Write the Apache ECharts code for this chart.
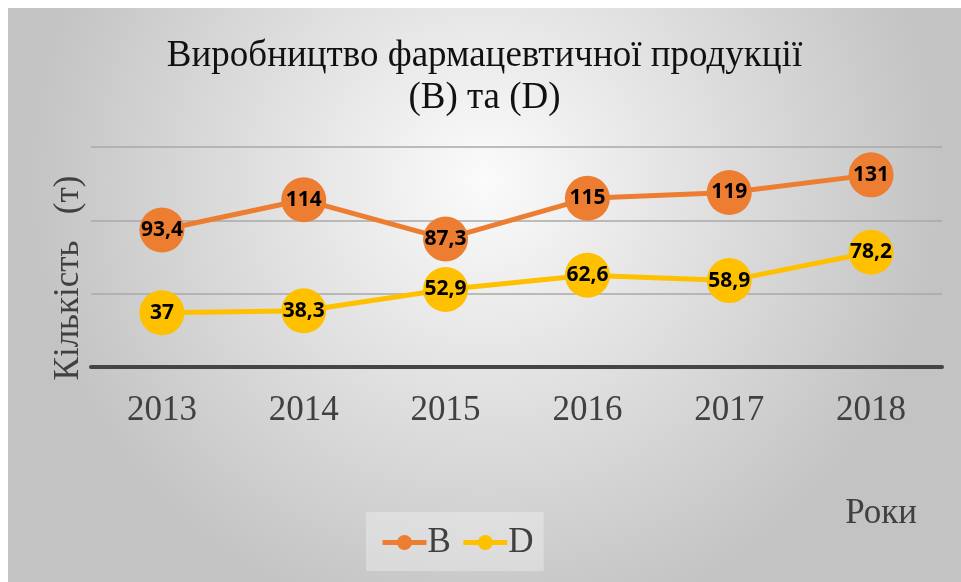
<!DOCTYPE html>
<html>
<head>
<meta charset="utf-8">
<script src="https://cdn.jsdelivr.net/npm/echarts@6/dist/echarts.min.js"></script>
<style>
    html, body { margin: 0; padding: 0; background: #fff; }
    #chart { position: absolute; left: 8px; top: 8px; width: 953px; height: 574px; }
</style>
</head>
<body>
<div id="chart"></div>
<script>
    // роки та значення серій
    var years = ['2013', '2014', '2015', '2016', '2017', '2018'];
    var seriesB = [93.4, 114, 87.3, 115, 119, 131];
    var seriesD = [37, 38.3, 52.9, 62.6, 58.9, 78.2];

    var serif = '"Liberation Serif", "DejaVu Serif", serif';
    var chart = echarts.init(document.getElementById('chart'));

    function fmt(p) {
        return String(p.value).replace('.', ',');
    }

    var labelStyle = {
        show: true, position: 'inside', formatter: fmt,
        fontFamily: '"Open Sans", "Noto Sans", sans-serif', fontWeight: 'bold', fontSize: 21, color: '#000'
    };

    var option = {
        backgroundColor: {
            type: 'radial', x: 0.5, y: 0.3, r: 0.8,
            colorStops: [{offset: 0, color: '#fbfbfb'}, {offset: 1, color: '#c3c3c3'}]
        },
        title: {
            text: 'Виробництво фармацевтичної продукції\n(B) та (D)',
            left: 'center',
            top: 22,
            textStyle: {fontFamily: serif, fontSize: 37, fontWeight: 'normal', color: '#111', lineHeight: 42}
        },
        grid: {left: 83, right: 19, top: 139, bottom: 215},
        legend: {
            bottom: 11,
            left: 358,
            data: ['B', 'D'],
            itemWidth: 44,
            itemHeight: 19,
            itemGap: 10,
            padding: [13, 10, 11, 14],
            backgroundColor: 'rgba(255,255,255,0.3)',
            lineStyle: {width: 5},
            textStyle: {fontFamily: serif, fontSize: 35, color: '#404040', padding: [4, 0, 0, -4]}
        },
        xAxis: {
            type: 'category',
            data: years,
            axisLine: {lineStyle: {color: '#444', width: 4}},
            axisTick: {show: false},
            axisLabel: {fontFamily: serif, fontSize: 35, color: '#404040', margin: 26}
        },
        yAxis: {
            type: 'value',
            min: 0,
            max: 150,
            interval: 50,
            axisLine: {show: false},
            axisTick: {show: false},
            axisLabel: {show: false},
            splitLine: {lineStyle: {color: '#a8a8a8', width: 1.5}}
        },
        graphic: [{
            type: 'text',
            x: 61,
            y: 270,
            rotation: Math.PI / 2,
            style: {
                text: 'Кількість   (т)', font: '35px ' + serif, fill: '#404040',
                align: 'center', verticalAlign: 'middle'
            }
        }, {
            type: 'text',
            right: 44,
            top: 488,
            style: {text: 'Роки', font: '35px ' + serif, fill: '#404040'}
        }],
        series: [{
            name: 'B',
            type: 'line',
            data: seriesB,
            symbol: 'circle',
            symbolSize: 45,
            itemStyle: {color: '#ED7D31'},
            lineStyle: {width: 5, color: '#ED7D31'},
            label: labelStyle,
            z: 3
        }, {
            name: 'D',
            type: 'line',
            data: seriesD,
            symbol: 'circle',
            symbolSize: 45,
            itemStyle: {color: '#FFC000'},
            lineStyle: {width: 5, color: '#FFC000'},
            label: labelStyle,
            z: 2
        }]
    };
    chart.setOption(option);
</script>
</body>
</html>
